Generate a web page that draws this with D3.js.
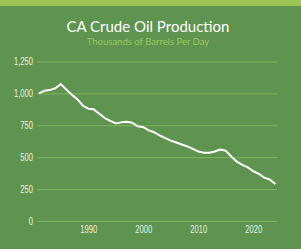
<!DOCTYPE html>
<html>
<head>
<meta charset="utf-8">
<script src="https://cdn.jsdelivr.net/npm/d3@7"></script>
<style>
  body { margin: 0; background: #5e9450; }
</style>
</head>
<body>
<script>
// data
var years = d3.range(1981, 2025);
var production = [1000, 1020, 1026, 1040, 1073, 1030, 990, 955, 905, 880,
                  875, 840, 807, 785, 765, 773, 778, 770, 742, 735,
                  710, 695, 670, 650, 630, 615, 600, 585, 565, 545,
                  535, 535, 545, 560, 550, 505, 465, 440, 420, 390,
                  370, 340, 325, 290];
var yTicks = [0, 250, 500, 750, 1000, 1250];
var xTicks = [1990, 2000, 2010, 2020];

var width = 301, height = 249;

var svg = d3.select("body").append("svg")
    .attr("width", width)
    .attr("height", height);

// background and top band
svg.append("rect").attr("width", width).attr("height", height).attr("fill", "#5e9450");
svg.append("rect").attr("width", width).attr("height", 6).attr("fill", "#9dc452");

// titles
svg.append("text")
    .attr("x", 148).attr("y", 32)
    .attr("text-anchor", "middle")
    .attr("fill", "#ffffff")
    .attr("font-family", "Lato, 'Open Sans', sans-serif")
    .attr("font-size", 15)
    .text("CA Crude Oil Production");

svg.append("text")
    .attr("x", 148).attr("y", 45)
    .attr("text-anchor", "middle")
    .attr("fill", "#9cc55a")
    .attr("font-family", "Lato, 'Open Sans', sans-serif")
    .attr("font-size", 9.5)
    .text("Thousands of Barrels Per Day");

//scales
var x = d3.scaleLinear().domain([1990, 2020]).range([88.3, 253.3]);
var y = d3.scaleLinear().domain([0, 1250]).range([221, 61.5]);

var labelFont = "'Liberation Sans', Arial, sans-serif";
var squeeze = 0.76; // tick labels are condensed in the reference

// gridlines + y labels
var yAxis = svg.append("g")
    .attr("transform", "translate(37,0)")
    .call(d3.axisLeft(y).tickValues(yTicks).tickSize(-240).tickPadding(4)
        .tickFormat(d3.format(",")));
yAxis.select(".domain").remove();
yAxis.selectAll(".tick line").attr("stroke", "#84b35a").attr("stroke-width", 1);
yAxis.selectAll(".tick text")
    .attr("fill", "#e8f0e2")
    .attr("font-family", labelFont)
    .attr("font-size", 10)
    .attr("x", 0)
    .attr("transform", "translate(-4,0) scale(" + squeeze + ",1)");

// x labels
var xAxis = svg.append("g")
    .attr("transform", "translate(0,221)")
    .call(d3.axisBottom(x).tickValues(xTicks).tickSize(0).tickPadding(5)
        .tickFormat(d3.format("d")));
xAxis.select(".domain").remove();
xAxis.selectAll(".tick text")
    .attr("fill", "#e8f0e2")
    .attr("font-family", labelFont)
    .attr("font-size", 10)
    .attr("transform", "scale(" + squeeze + ",1)");

// the production line
var line = d3.line()
    .x(function(d, i) { return x(years[i]); })
    .y(function(d) { return y(d); });

svg.append("path")
    .datum(production)
    .attr("d", line)
    .attr("fill", "none")
    .attr("stroke", "#ffffff")
    .attr("stroke-width", 2)
    .attr("stroke-linejoin", "round");
</script>
</body>
</html>
